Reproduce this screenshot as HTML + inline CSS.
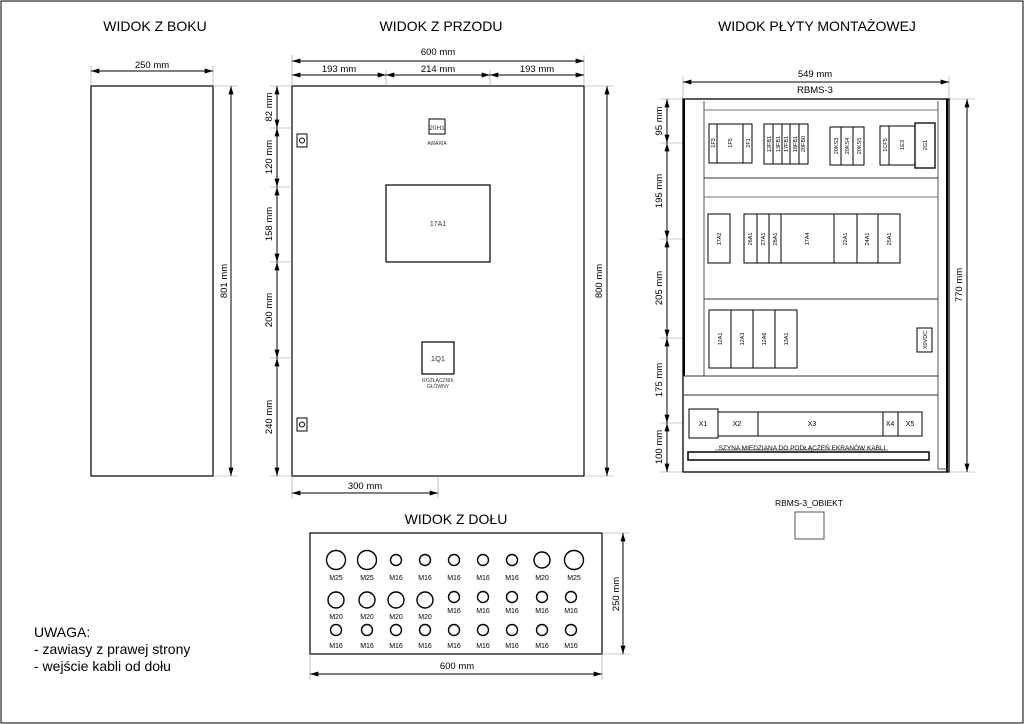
<!DOCTYPE html>
<html><head><meta charset="utf-8"><style>
html,body{margin:0;padding:0;background:#fff}
svg{display:block}
text{font-family:"Liberation Sans","DejaVu Sans",sans-serif;fill:#000}
.t{font-size:14px;text-anchor:middle}
.d{font-size:9.5px;text-anchor:middle}
.s{font-size:6px;text-anchor:middle;fill:#333}
.c{font-size:7px;text-anchor:middle}
</style></head><body>
<svg width="1024" height="724" viewBox="0 0 1024 724" xmlns="http://www.w3.org/2000/svg">
<defs>
<marker id="a" viewBox="0 0 10 6" refX="10" refY="3" markerWidth="9" markerHeight="5" orient="auto-start-reverse" markerUnits="userSpaceOnUse"><path d="M0,0L10,3L0,6z" fill="#000"/></marker>
</defs>
<rect x="1" y="1" width="1022" height="722" fill="none" stroke="#000" stroke-width="1"/>

<!-- titles -->
<text class="t" x="155" y="31">WIDOK Z BOKU</text>
<text class="t" x="441" y="31">WIDOK Z PRZODU</text>
<text class="t" x="817" y="31">WIDOK PŁYTY MONTAŻOWEJ</text>
<text class="t" x="456" y="524">WIDOK Z DOŁU</text>

<g fill="none" stroke="#000">
<!-- side view -->
<rect x="91" y="86" width="122" height="390" stroke-width="1.2"/>
<line x1="91" y1="66" x2="91" y2="86" stroke="#999" stroke-width=".6"/>
<line x1="213" y1="66" x2="213" y2="86" stroke="#999" stroke-width=".6"/>
<line x1="91" y1="71" x2="213" y2="71" marker-start="url(#a)" marker-end="url(#a)"/>
<line x1="213" y1="86" x2="238" y2="86" stroke="#999" stroke-width=".6"/>
<line x1="213" y1="476" x2="238" y2="476" stroke="#999" stroke-width=".6"/>
<line x1="231" y1="86" x2="231" y2="476" marker-start="url(#a)" marker-end="url(#a)"/>

<!-- front view -->
<rect x="292" y="86" width="292" height="390" stroke-width="1.2"/>
<g stroke="#999" stroke-width=".6">
<line x1="292" y1="55" x2="292" y2="86"/><line x1="584" y1="55" x2="584" y2="86"/>
<line x1="386" y1="70" x2="386" y2="86"/><line x1="490" y1="70" x2="490" y2="86"/>
<line x1="270" y1="86" x2="292" y2="86"/><line x1="270" y1="128" x2="292" y2="128"/>
<line x1="270" y1="187" x2="292" y2="187"/><line x1="270" y1="262" x2="292" y2="262"/>
<line x1="270" y1="358" x2="292" y2="358"/><line x1="270" y1="476" x2="292" y2="476"/>
<line x1="584" y1="86" x2="614" y2="86"/><line x1="584" y1="476" x2="614" y2="476"/>
<line x1="292" y1="476" x2="292" y2="498"/><line x1="438" y1="476" x2="438" y2="498"/>
</g>
<line x1="292" y1="61" x2="584" y2="61" marker-start="url(#a)" marker-end="url(#a)"/>
<line x1="292" y1="75" x2="386" y2="75" marker-start="url(#a)" marker-end="url(#a)"/>
<line x1="386" y1="75" x2="490" y2="75" marker-start="url(#a)" marker-end="url(#a)"/>
<line x1="490" y1="75" x2="584" y2="75" marker-start="url(#a)" marker-end="url(#a)"/>
<line x1="277" y1="86" x2="277" y2="128" marker-start="url(#a)" marker-end="url(#a)"/>
<line x1="277" y1="128" x2="277" y2="187" marker-start="url(#a)" marker-end="url(#a)"/>
<line x1="277" y1="187" x2="277" y2="262" marker-start="url(#a)" marker-end="url(#a)"/>
<line x1="277" y1="262" x2="277" y2="358" marker-start="url(#a)" marker-end="url(#a)"/>
<line x1="277" y1="358" x2="277" y2="476" marker-start="url(#a)" marker-end="url(#a)"/>
<line x1="607" y1="86" x2="607" y2="476" marker-start="url(#a)" marker-end="url(#a)"/>
<line x1="292" y1="493" x2="438" y2="493" marker-start="url(#a)" marker-end="url(#a)"/>
<rect x="297" y="134" width="10" height="13"/><circle cx="302" cy="140.5" r="2.5"/>
<rect x="297" y="418" width="10" height="13"/><circle cx="302" cy="424.5" r="2.5"/>
<rect x="429" y="119" width="16" height="15"/>
<rect x="386" y="185" width="104" height="77" stroke-width="1.2"/>
<rect x="422" y="342" width="32" height="32" stroke-width="1.2"/>

<!-- mounting plate -->
<g stroke="#999" stroke-width=".6">
<line x1="683" y1="76" x2="683" y2="99"/><line x1="949" y1="76" x2="949" y2="99"/>
<line x1="660" y1="99" x2="975" y2="99"/><line x1="660" y1="472" x2="975" y2="472"/>
<line x1="660" y1="143" x2="683" y2="143"/><line x1="660" y1="239" x2="683" y2="239"/>
<line x1="660" y1="338" x2="683" y2="338"/><line x1="660" y1="423" x2="683" y2="423"/>
</g>
<line x1="683" y1="82" x2="949" y2="82" marker-start="url(#a)" marker-end="url(#a)"/>
<line x1="667" y1="99" x2="667" y2="143" marker-start="url(#a)" marker-end="url(#a)"/>
<line x1="667" y1="143" x2="667" y2="239" marker-start="url(#a)" marker-end="url(#a)"/>
<line x1="667" y1="239" x2="667" y2="338" marker-start="url(#a)" marker-end="url(#a)"/>
<line x1="667" y1="338" x2="667" y2="423" marker-start="url(#a)" marker-end="url(#a)"/>
<line x1="667" y1="423" x2="667" y2="472" marker-start="url(#a)" marker-end="url(#a)"/>
<line x1="967" y1="99" x2="967" y2="472" marker-start="url(#a)" marker-end="url(#a)"/>
<rect x="683" y="99" width="266" height="373" stroke-width="1.3"/>
<line x1="684" y1="99" x2="684" y2="376" stroke-width="2"/>
<line x1="947" y1="99" x2="947" y2="472" stroke-width="2"/>
<line x1="704" y1="101" x2="704" y2="376" stroke="#555"/>
<path d="M938 101V469H949" stroke="#555"/>
<line x1="704" y1="110" x2="938" y2="110" stroke="#777"/>
<line x1="704" y1="178" x2="938" y2="178" stroke="#333"/>
<line x1="704" y1="197" x2="938" y2="197" stroke="#777"/>
<line x1="704" y1="299" x2="938" y2="299" stroke="#333"/>
<line x1="684" y1="376" x2="938" y2="376" stroke="#333"/>
<line x1="684" y1="395" x2="938" y2="395" stroke="#333"/>
<!-- row1 -->
<g stroke-width="1">
<rect x="709" y="124" width="43" height="39"/><line x1="717" y1="124" x2="717" y2="163"/><line x1="743" y1="124" x2="743" y2="163"/>
<rect x="764" y="124" width="44" height="40"/><line x1="773" y1="124" x2="773" y2="164"/><line x1="782" y1="124" x2="782" y2="164"/><line x1="790" y1="124" x2="790" y2="164"/><line x1="799" y1="124" x2="799" y2="164"/>
<rect x="830" y="127" width="34" height="38"/><line x1="841" y1="127" x2="841" y2="165"/><line x1="853" y1="127" x2="853" y2="165"/>
<rect x="880" y="126" width="35" height="39"/><line x1="889" y1="126" x2="889" y2="165"/>
<rect x="915" y="123" width="20" height="45" stroke-width="1.3"/>
<rect x="708" y="214" width="22" height="49"/>
<rect x="744" y="214" width="156" height="49"/>
<line x1="757" y1="214" x2="757" y2="263"/><line x1="769" y1="214" x2="769" y2="263"/><line x1="781" y1="214" x2="781" y2="263"/><line x1="834" y1="214" x2="834" y2="263"/><line x1="857" y1="214" x2="857" y2="263"/><line x1="878" y1="214" x2="878" y2="263"/>
<rect x="709" y="310" width="88" height="58"/>
<line x1="731" y1="310" x2="731" y2="368"/><line x1="753" y1="310" x2="753" y2="368"/><line x1="775" y1="310" x2="775" y2="368"/>
<rect x="917" y="328" width="15" height="24"/>
<rect x="689" y="409" width="29" height="29"/>
<rect x="718" y="412" width="204" height="24"/>
<line x1="758" y1="412" x2="758" y2="436"/><line x1="883" y1="412" x2="883" y2="436"/><line x1="898" y1="412" x2="898" y2="436"/>
<rect x="688" y="452" width="241" height="8" stroke-width="1.5"/>
<line x1="715" y1="450" x2="888" y2="450" stroke-width=".6"/>
</g>
<rect x="795" y="512" width="29" height="27" stroke="#555"/>

<!-- bottom view -->
<rect x="310" y="533" width="292" height="121" stroke-width="1.2"/>
<g stroke="#999" stroke-width=".6">
<line x1="602" y1="533" x2="630" y2="533"/><line x1="602" y1="654" x2="630" y2="654"/>
<line x1="310" y1="654" x2="310" y2="680"/><line x1="602" y1="654" x2="602" y2="680"/>
</g>
<line x1="623" y1="533" x2="623" y2="654" marker-start="url(#a)" marker-end="url(#a)"/>
<line x1="310" y1="674" x2="602" y2="674" marker-start="url(#a)" marker-end="url(#a)"/>
<g stroke-width="1.4">
<circle cx="336" cy="560" r="9.5"/><circle cx="367" cy="560" r="9.5"/><circle cx="396" cy="560" r="5.5"/><circle cx="425" cy="560" r="5.5"/><circle cx="454" cy="560" r="5.5"/><circle cx="483" cy="560" r="5.5"/><circle cx="512" cy="560" r="5.5"/><circle cx="542" cy="560" r="8"/><circle cx="574" cy="560" r="9.5"/>
<circle cx="336" cy="600" r="8"/><circle cx="367" cy="600" r="8"/><circle cx="396" cy="600" r="8"/><circle cx="425" cy="600" r="8"/><circle cx="454" cy="597" r="5.5"/><circle cx="483" cy="597" r="5.5"/><circle cx="512" cy="597" r="5.5"/><circle cx="542" cy="597" r="5.5"/><circle cx="571" cy="597" r="5.5"/>
<circle cx="336" cy="630" r="5.5"/><circle cx="367" cy="630" r="5.5"/><circle cx="396" cy="630" r="5.5"/><circle cx="425" cy="630" r="5.5"/><circle cx="454" cy="630" r="5.5"/><circle cx="483" cy="630" r="5.5"/><circle cx="512" cy="630" r="5.5"/><circle cx="542" cy="630" r="5.5"/><circle cx="571" cy="630" r="5.5"/>
</g>
</g>

<!-- dimension texts -->
<text class="d" x="152" y="68">250 mm</text>
<text class="d" transform="translate(227,281) rotate(-90)">801 mm</text>
<text class="d" x="438" y="55">600 mm</text>
<text class="d" x="339" y="72">193 mm</text>
<text class="d" x="438" y="72">214 mm</text>
<text class="d" x="537" y="72">193 mm</text>
<text class="d" transform="translate(272,107) rotate(-90)">82 mm</text>
<text class="d" transform="translate(272,157) rotate(-90)">120 mm</text>
<text class="d" transform="translate(272,224) rotate(-90)">158 mm</text>
<text class="d" transform="translate(272,310) rotate(-90)">200 mm</text>
<text class="d" transform="translate(272,417) rotate(-90)">240 mm</text>
<text class="d" transform="translate(602,281) rotate(-90)">800 mm</text>
<text class="d" x="365" y="489">300 mm</text>
<text class="s" x="437" y="130" style="font-size:6.5px">20H1</text>
<text class="s" x="437" y="145" style="font-size:5px">AWARIA</text>
<text class="s" x="438" y="226" style="font-size:7px">17A1</text>
<text class="s" x="438" y="361" style="font-size:7.5px">1Q1</text>
<text class="s" x="438" y="382" style="font-size:5px">ROZŁĄCZNIK</text>
<text class="s" x="438" y="388" style="font-size:5px">GŁÓWNY</text>

<text class="d" x="815" y="77">549 mm</text>
<text class="d" x="815" y="93">RBMS-3</text>
<text class="d" transform="translate(662,121) rotate(-90)">95 mm</text>
<text class="d" transform="translate(662,191) rotate(-90)">195 mm</text>
<text class="d" transform="translate(662,288) rotate(-90)">205 mm</text>
<text class="d" transform="translate(662,380) rotate(-90)">175 mm</text>
<text class="d" transform="translate(662,447) rotate(-90)">100 mm</text>
<text class="d" transform="translate(962,285) rotate(-90)">770 mm</text>
<g class="s" style="font-size:5.5px">
<text transform="translate(715,143) rotate(-90)">1F3</text>
<text transform="translate(732,143) rotate(-90)">1F5</text>
<text transform="translate(750,143) rotate(-90)">2F1</text>
<text transform="translate(771,144) rotate(-90)">12FB1</text>
<text transform="translate(780,144) rotate(-90)">13FB1</text>
<text transform="translate(788,144) rotate(-90)">17FB1</text>
<text transform="translate(797,144) rotate(-90)">18FB1</text>
<text transform="translate(805,144) rotate(-90)">20FB0</text>
<text transform="translate(838,146) rotate(-90)">20KS3</text>
<text transform="translate(849,146) rotate(-90)">20KS4</text>
<text transform="translate(861,146) rotate(-90)">20KS5</text>
<text transform="translate(887,145) rotate(-90)">1CF5</text>
<text transform="translate(904,145) rotate(-90)">1E3</text>
<text transform="translate(927,145) rotate(-90)">2G1</text>
<text transform="translate(721,239) rotate(-90)">17A2</text>
<text transform="translate(752,239) rotate(-90)">26A1</text>
<text transform="translate(765,239) rotate(-90)">27A1</text>
<text transform="translate(777,239) rotate(-90)">28A1</text>
<text transform="translate(809,239) rotate(-90)">17A4</text>
<text transform="translate(847,239) rotate(-90)">22A1</text>
<text transform="translate(869,239) rotate(-90)">24A1</text>
<text transform="translate(891,239) rotate(-90)">25A1</text>
<text transform="translate(722,339) rotate(-90)">12A1</text>
<text transform="translate(744,339) rotate(-90)">12A3</text>
<text transform="translate(766,339) rotate(-90)">12A6</text>
<text transform="translate(788,339) rotate(-90)">13A1</text>
<text transform="translate(927,340) rotate(-90)" style="fill:#000">X0VDC</text>
</g>
<g class="c">
<text x="703" y="426">X1</text><text x="737" y="426">X2</text><text x="812" y="426">X3</text><text x="890" y="426">X4</text><text x="910" y="426">X5</text>
<text x="802" y="450" style="font-size:6.5px">SZYNA MIEDZIANA DO PODŁĄCZEŃ EKRANÓW KABLI</text>
</g>
<text class="c" x="809" y="506" style="font-size:8.5px">RBMS-3_OBIEKT</text>

<text class="d" transform="translate(619,594) rotate(-90)">250 mm</text>
<text class="d" x="457" y="669">600 mm</text>
<g class="c">
<text x="336" y="580">M25</text><text x="367" y="580">M25</text><text x="396" y="580">M16</text><text x="425" y="580">M16</text><text x="454" y="580">M16</text><text x="483" y="580">M16</text><text x="512" y="580">M16</text><text x="542" y="580">M20</text><text x="574" y="580">M25</text>
<text x="336" y="619">M20</text><text x="367" y="619">M20</text><text x="396" y="619">M20</text><text x="425" y="619">M20</text><text x="454" y="613">M16</text><text x="483" y="613">M16</text><text x="512" y="613">M16</text><text x="542" y="613">M16</text><text x="571" y="613">M16</text>
<text x="336" y="648">M16</text><text x="367" y="648">M16</text><text x="396" y="648">M16</text><text x="425" y="648">M16</text><text x="454" y="648">M16</text><text x="483" y="648">M16</text><text x="512" y="648">M16</text><text x="542" y="648">M16</text><text x="571" y="648">M16</text>
</g>

<text x="34" y="637" style="font-size:14px">UWAGA:</text>
<text x="34" y="654" style="font-size:14px">- zawiasy z prawej strony</text>
<text x="34" y="671" style="font-size:14px">- wejście kabli od dołu</text>
</svg>
</body></html>
